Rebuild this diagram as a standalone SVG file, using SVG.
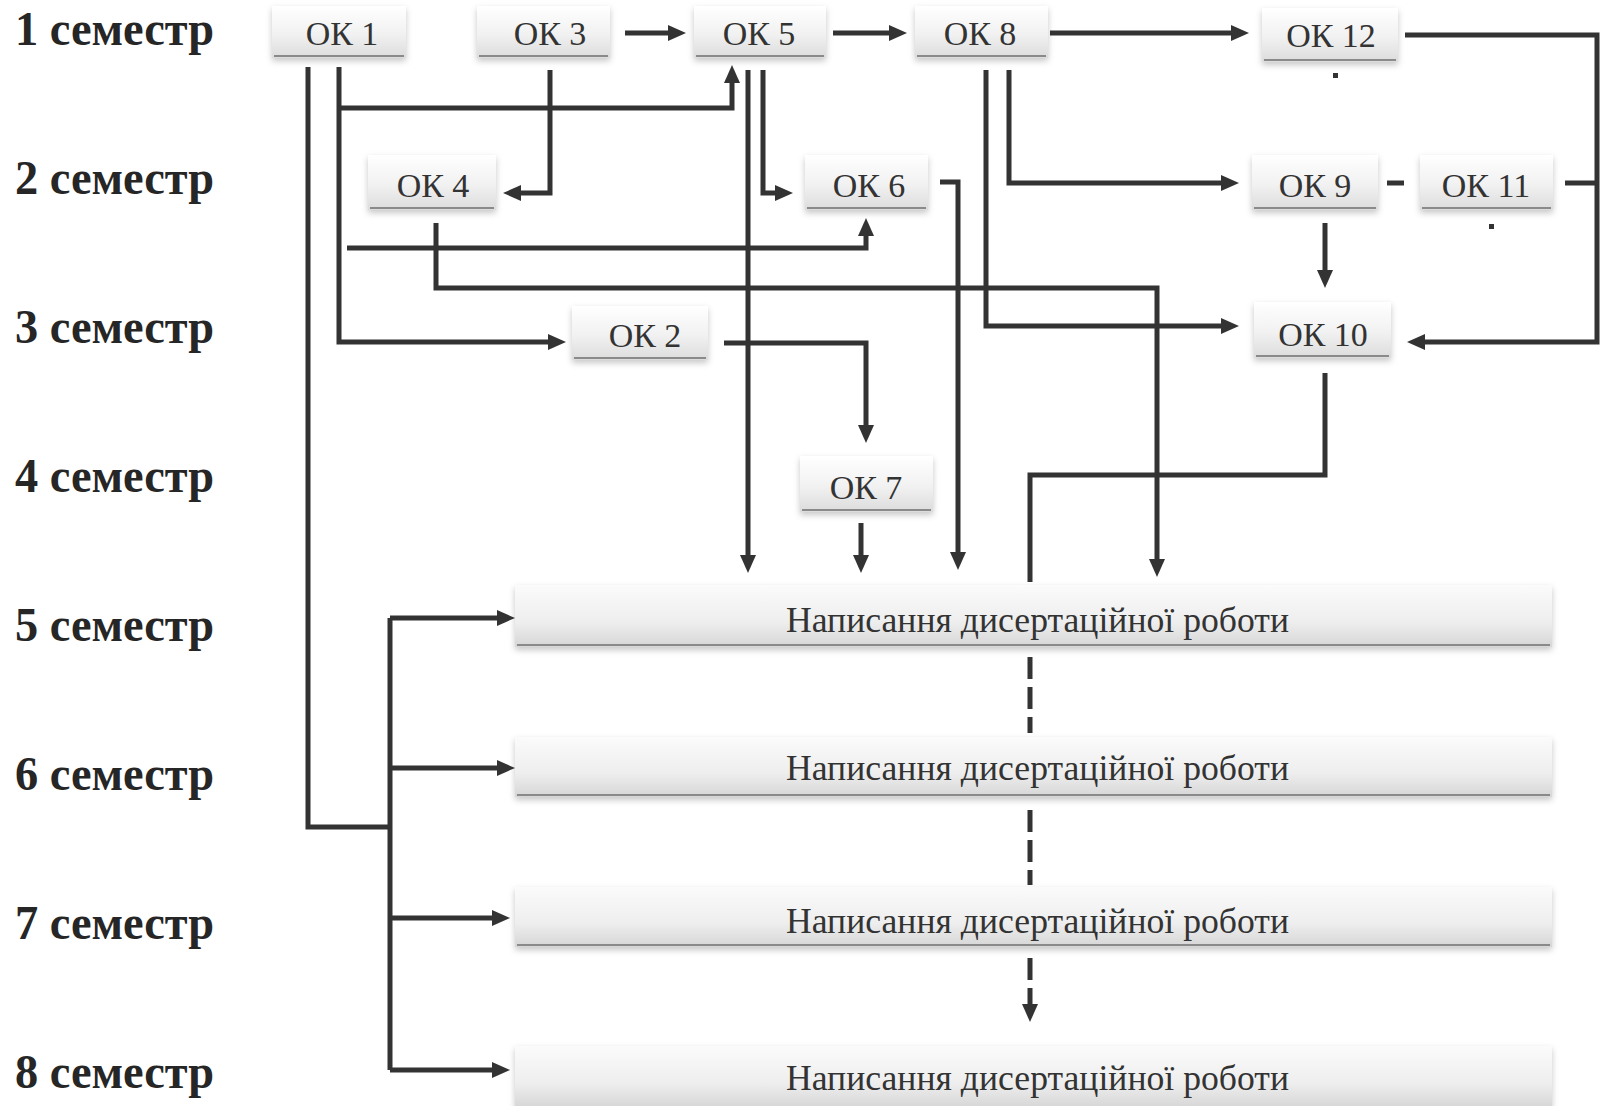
<svg xmlns="http://www.w3.org/2000/svg" width="1600" height="1106" viewBox="0 0 1600 1106">
<defs>
<linearGradient id="gBox" x1="0" y1="0" x2="0" y2="1">
<stop offset="0" stop-color="#ffffff"/>
<stop offset="0.55" stop-color="#f1f1f1"/>
<stop offset="1" stop-color="#dcdcdc"/>
</linearGradient>
<linearGradient id="gBig" x1="0" y1="0" x2="0" y2="1">
<stop offset="0" stop-color="#fbfbfb"/>
<stop offset="0.6" stop-color="#eeeeee"/>
<stop offset="1" stop-color="#d6d6d6"/>
</linearGradient>
<filter id="sh" x="-10%" y="-20%" width="120%" height="150%">
<feDropShadow dx="0" dy="3" stdDeviation="3" flood-color="#000" flood-opacity="0.22"/>
</filter>
<marker id="ah" viewBox="0 0 18 16" markerWidth="18" markerHeight="16" markerUnits="userSpaceOnUse" refX="7" refY="8" orient="auto">
<path d="M0,0 L18,8 L0,16 z" fill="#333"/>
</marker>
<style>
.sem{font-family:"Liberation Serif","Times New Roman",serif;font-weight:bold;font-size:48px;fill:#262626}
.ok{font-family:"Liberation Serif","Times New Roman",serif;font-size:34px;fill:#333;text-anchor:middle}
.big{font-family:"Liberation Serif","Times New Roman",serif;font-size:36px;fill:#333}
.box{fill:url(#gBox);filter:url(#sh)}
.bbox{fill:url(#gBig);filter:url(#sh)}
.edge{stroke:#8a8a8a;stroke-width:2}
.c{fill:none;stroke:#333;stroke-width:5;stroke-linejoin:miter}
.a{marker-end:url(#ah)}
.d{stroke-dasharray:22 8}
</style>
</defs>
<rect width="1600" height="1106" fill="#ffffff"/>

<g id="semesters">
<text class="sem" x="15" y="45" textLength="199" lengthAdjust="spacingAndGlyphs">1 семестр</text>
<text class="sem" x="15" y="194" textLength="199" lengthAdjust="spacingAndGlyphs">2 семестр</text>
<text class="sem" x="15" y="343" textLength="199" lengthAdjust="spacingAndGlyphs">3 семестр</text>
<text class="sem" x="15" y="492" textLength="199" lengthAdjust="spacingAndGlyphs">4 семестр</text>
<text class="sem" x="15" y="641" textLength="199" lengthAdjust="spacingAndGlyphs">5 семестр</text>
<text class="sem" x="15" y="790" textLength="199" lengthAdjust="spacingAndGlyphs">6 семестр</text>
<text class="sem" x="15" y="939" textLength="199" lengthAdjust="spacingAndGlyphs">7 семестр</text>
<text class="sem" x="15" y="1088" textLength="199" lengthAdjust="spacingAndGlyphs">8 семестр</text>
</g>

<g id="connectors">
<path class="c a" d="M625,33 H675"/>
<path class="c a" d="M833,33 H896"/>
<path class="c a" d="M1050,33 H1238"/>
<path class="c a" d="M1405,35 H1597 V342 H1418"/>
<path class="c" d="M1565,183 H1597"/>
<path class="c" d="M1387,183 H1404"/>
<path class="c a" d="M1325,223 V277"/>
<path class="c a" d="M1009,70 V183 H1228"/>
<path class="c a" d="M986,70 V326 H1228"/>
<path class="c" d="M308,67 V827 H390"/>
<path class="c" d="M390,618 V1070"/>
<path class="c a" d="M390,618 H504"/>
<path class="c a" d="M390,768 H504"/>
<path class="c a" d="M390,918 H499"/>
<path class="c a" d="M390,1070 H499"/>
<path class="c a" d="M339,67 V342 H555"/>
<path class="c a" d="M339,108 H732 V76"/>
<path class="c a" d="M347,248 H866 V229"/>
<path class="c a" d="M550,70 V193 H514"/>
<path class="c a" d="M436,223 V288 H1157 V566"/>
<path class="c a" d="M748,70 V562"/>
<path class="c a" d="M763,70 V193 H782"/>
<path class="c a" d="M940,182 H958 V559"/>
<path class="c a" d="M724,343 H866 V432"/>
<path class="c a" d="M861,523 V562"/>
<path class="c" d="M1325,373 V475 H1030 V582"/>
<path class="c d" d="M1030,657 V733"/>
<path class="c d" d="M1030,810 V885"/>
<path class="c d a" d="M1030,958 V1011"/>
<rect x="1333" y="73" width="5" height="5" fill="#333"/>
<rect x="1489" y="224" width="5" height="5" fill="#333"/>
</g>

<g id="ok1"><rect class="box" x="272" y="6" width="134" height="52"/><line class="edge" x1="274" y1="56" x2="404" y2="56"/><text class="ok" x="342" y="45">ОК 1</text></g>
<g id="ok3"><rect class="box" x="477" y="6" width="133" height="52"/><line class="edge" x1="479" y1="56" x2="608" y2="56"/><text class="ok" x="550" y="45">ОК 3</text></g>
<g id="ok5"><rect class="box" x="694" y="6" width="132" height="52"/><line class="edge" x1="696" y1="56" x2="824" y2="56"/><text class="ok" x="759" y="45">ОК 5</text></g>
<g id="ok8"><rect class="box" x="915" y="6" width="133" height="52"/><line class="edge" x1="917" y1="56" x2="1046" y2="56"/><text class="ok" x="980" y="45">ОК 8</text></g>
<g id="ok12"><rect class="box" x="1262" y="8" width="136" height="54"/><line class="edge" x1="1264" y1="60" x2="1396" y2="60"/><text class="ok" x="1331" y="47">ОК 12</text></g>
<g id="ok4"><rect class="box" x="368" y="155" width="128" height="55"/><line class="edge" x1="370" y1="208" x2="494" y2="208"/><text class="ok" x="433" y="197">ОК 4</text></g>
<g id="ok6"><rect class="box" x="805" y="155" width="123" height="55"/><line class="edge" x1="807" y1="208" x2="926" y2="208"/><text class="ok" x="869" y="197">ОК 6</text></g>
<g id="ok9"><rect class="box" x="1252" y="155" width="126" height="55"/><line class="edge" x1="1254" y1="208" x2="1376" y2="208"/><text class="ok" x="1315" y="197">ОК 9</text></g>
<g id="ok11"><rect class="box" x="1420" y="155" width="133" height="55"/><line class="edge" x1="1422" y1="208" x2="1551" y2="208"/><text class="ok" x="1486" y="197">ОК 11</text></g>
<g id="ok2"><rect class="box" x="572" y="306" width="136" height="54"/><line class="edge" x1="574" y1="358" x2="706" y2="358"/><text class="ok" x="645" y="347">ОК 2</text></g>
<g id="ok10"><rect class="box" x="1254" y="302" width="137" height="56"/><line class="edge" x1="1256" y1="356" x2="1389" y2="356"/><text class="ok" x="1323" y="346">ОК 10</text></g>
<g id="ok7"><rect class="box" x="800" y="456" width="133" height="56"/><line class="edge" x1="802" y1="510" x2="931" y2="510"/><text class="ok" x="866" y="499">ОК 7</text></g>

<g id="thesis5"><rect class="bbox" x="515" y="585" width="1037" height="62"/><line class="edge" x1="517" y1="645" x2="1550" y2="645"/><text class="big" x="786" y="632" textLength="503" lengthAdjust="spacingAndGlyphs">Написання дисертаційної роботи</text></g>
<g id="thesis6"><rect class="bbox" x="515" y="737" width="1037" height="60"/><line class="edge" x1="517" y1="795" x2="1550" y2="795"/><text class="big" x="786" y="780" textLength="503" lengthAdjust="spacingAndGlyphs">Написання дисертаційної роботи</text></g>
<g id="thesis7"><rect class="bbox" x="515" y="887" width="1037" height="60"/><line class="edge" x1="517" y1="945" x2="1550" y2="945"/><text class="big" x="786" y="933" textLength="503" lengthAdjust="spacingAndGlyphs">Написання дисертаційної роботи</text></g>
<g id="thesis8"><rect class="bbox" x="515" y="1046" width="1037" height="62"/><text class="big" x="786" y="1090" textLength="503" lengthAdjust="spacingAndGlyphs">Написання дисертаційної роботи</text></g>
</svg>
